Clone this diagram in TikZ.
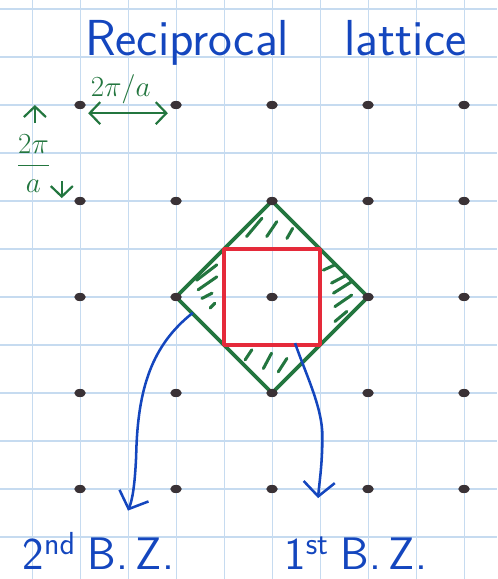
\documentclass[tikz,border=0pt]{standalone}
\usepackage{amsmath, amssymb}
\usepackage{tikz}
\usetikzlibrary{arrows.meta, positioning, shapes.geometric}
\definecolor{InkBlue}{HTML}{1446BE}
\definecolor{InkGreen}{HTML}{23763F}
\definecolor{InkRed}{HTML}{E52A3A}
\definecolor{InkDot}{HTML}{3A3236}
\definecolor{PaperLine}{HTML}{C6DBF0}

\begin{document}
\begin{tikzpicture}[>={Straight Barb[length=2.2mm, width=4.6mm]},
    paper/.style={PaperLine, line width=0.6pt},
    latdot/.style={ellipse, fill=InkDot, inner sep=0pt, minimum width=0.24cm, minimum height=0.17cm},
    zone2/.style={InkGreen, line width=2.2pt, line join=round},
    zone1/.style={InkRed, line width=2.2pt, line join=round},
    hatch/.style={InkGreen, line width=1.8pt, line cap=round},
    dimline/.style={InkGreen, line width=1.3pt},
    pointer/.style={InkBlue, line width=1.5pt, ->, >={Straight Barb[length=3mm, width=6.5mm]}},
    handtext/.style={font=\sffamily\fontsize{27}{30}\selectfont, InkBlue, inner sep=0pt}]
  \useasboundingbox (-5.667,-5.875) rectangle (4.6875,6.1875);
  % squared paper
  \draw[paper] (-5.667,-5.875) grid (4.6875,6.1875);

  % title
  \node[handtext, font=\sffamily\fontsize{30}{34}\selectfont, anchor=base west] (title) at (-3.9,5.04) {Reciprocal\hspace{1.15cm}lattice};

  % zones
  \draw[zone2] (0,2) -- (2,0) -- (0,-2) -- (-2,0) -- cycle;
  \draw[zone1] (-1,-1) rectangle (1,1);
  \foreach \xa/\ya/\xb/\yb in {-0.53/1.26/-0.21/1.64, -0.11/1.26/0.10/1.57, 0.31/1.22/0.43/1.43,
      -1.57/0.35/-1.15/0.67, -1.54/0.15/-1.15/0.42, -1.46/-0.03/-1.25/0.08, -1.29/-0.23/-1.19/-0.13,
      1.07/0.56/1.31/0.67, 1.24/0.29/1.56/0.46, 1.28/0.08/1.66/0.32, 1.31/-0.20/1.66/0.04, 1.31/-0.51/1.56/-0.30,
      -0.56/-1.31/-0.42/-1.10, -0.18/-1.49/-0.01/-1.17, 0.13/-1.56/0.31/-1.28}
    \draw[hatch] (\xa,\ya) -- (\xb,\yb);

  % lattice points
  \foreach \i in {0,...,4}
    \foreach \j in {0,...,4}
      \node[latdot] (d\i\j) at (2*\i-4, 2*\j-4) {};

  % spacing labels
  \draw[dimline, <->] ([shift={(0.17,-0.17)}]d04.center) -- ([shift={(-0.17,-0.17)}]d14.center);
  \node[InkGreen, font=\fontsize{18}{21}\selectfont] (hlab) at (-3.15,4.33) {$2\pi/a$};
  \node[InkGreen, font=\fontsize{19}{22}\selectfont, inner sep=1pt] (vlab) at (-4.97,2.78) {$\dfrac{2\pi}{a}$};
  \coordinate (upa) at (-4.94,3.62);
  \coordinate (upb) at (-4.94,4.0);
  \coordinate (dna) at (-4.38,2.42);
  \coordinate (dnb) at (-4.38,2.06);
  \draw[dimline, ->] (upa) -- (upb);
  \draw[dimline, ->] (dna) -- (dnb);

  % zone labels
  \node[handtext, anchor=base west] (bz2) at (-5.2,-5.68) {2\textsuperscript{nd}\hspace{0.25cm}B.\,Z.};
  \node[handtext, anchor=base west] (bz1) at (0.25,-5.68) {1\textsuperscript{st}\hspace{0.25cm}B.\,Z.};
  \coordinate (s2) at (-1.65,-0.33);
  \coordinate (e2) at (-3.0,-4.45);
  \coordinate (s1) at (0.48,-0.96);
  \coordinate (e1) at (0.96,-4.19);
  \draw[pointer] (s2) .. controls (-2.5,-1.0) and (-2.8,-1.9) .. (-2.83,-3.3) .. controls (-2.86,-4.0) and (-2.92,-4.25) .. (e2);
  \draw[pointer] (s1) .. controls (0.7,-1.6) and (1.05,-2.3) .. (1.05,-2.9) .. controls (1.05,-3.5) and (0.98,-3.9) .. (e1);
\end{tikzpicture}
\end{document}
